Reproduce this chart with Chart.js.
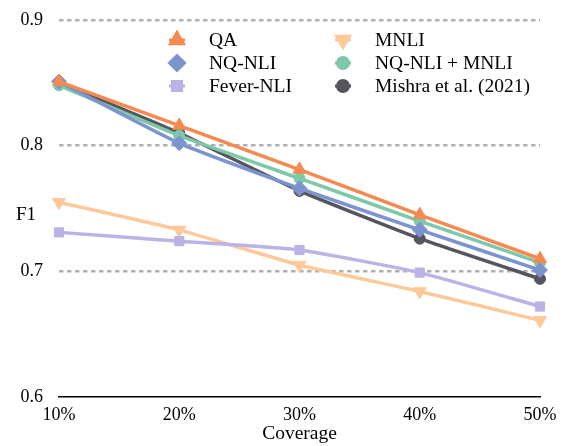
<!DOCTYPE html>
<html>
<head>
<meta charset="utf-8">
<script src="https://cdn.jsdelivr.net/npm/chart.js@4.4.1/dist/chart.umd.min.js"></script>
<style>
  body { margin: 0; background: #fff; }
  #wrap { width: 564px; height: 446px; }
</style>
</head>
<body>
<div id="wrap"><canvas id="myChart"></canvas></div>
<script>
var coverage = ['10%', '20%', '30%', '40%', '50%']
var qa = [0.851, 0.816, 0.781, 0.745, 0.710]
var nqNli = [0.851, 0.802, 0.766, 0.733, 0.701]
var feverNli = [0.731, 0.724, 0.717, 0.699, 0.672]
var mnli = [0.755, 0.733, 0.705, 0.684, 0.661]
var nqNliMnli = [0.848, 0.808, 0.774, 0.740, 0.707]
var mishra = [0.850, 0.810, 0.764, 0.726, 0.694]
var yTicks = [0.6, 0.7, 0.8, 0.9]

var serif = "'Liberation Serif', 'Times New Roman', serif"

function series(label, data, color, style, radius, rotation) {
	return {
		label: label,
		data: data,
		borderColor: color,
		backgroundColor: color,
		borderWidth: 3.5,
		pointStyle: style,
		pointRadius: radius,
		pointHoverRadius: radius,
		pointRotation: rotation || 0,
		pointBackgroundColor: color,
		pointBorderColor: color,
		pointBorderWidth: 1,
		tension: 0.15,
		fill: false,
		clip: false
	}
}

// legend in two columns, column-major like the original
var legendSlots = [
	{ label: 'QA', col: 0, row: 0 },
	{ label: 'NQ-NLI', col: 0, row: 1 },
	{ label: 'Fever-NLI', col: 0, row: 2 },
	{ label: 'MNLI', col: 1, row: 0 },
	{ label: 'NQ-NLI + MNLI', col: 1, row: 1 },
	{ label: 'Mishra et al. (2021)', col: 1, row: 2 }
]

var customLegend = {
	id: 'customLegend',
	afterDraw: function(chart) {
		var ctx = chart.ctx
		var colX = [177, 343]
		var rowY = [40, 63, 86]
		ctx.save()
		ctx.font = '19.5px ' + serif
		ctx.textBaseline = 'middle'
		ctx.textAlign = 'left'
		legendSlots.forEach(function(slot) {
			var ds = chart.data.datasets.find(function(d) { return d.label === slot.label })
			var x = colX[slot.col]
			var y = rowY[slot.row]
			ctx.strokeStyle = ds.borderColor
			ctx.fillStyle = ds.borderColor
			ctx.lineWidth = 3
			ctx.beginPath()
			ctx.moveTo(x - 8, y)
			ctx.lineTo(x + 8, y)
			ctx.stroke()
			Chart.helpers.drawPoint(ctx, {
				pointStyle: ds.pointStyle,
				radius: ds.pointRadius,
				rotation: ds.pointRotation,
				borderWidth: 1
			}, x, y)
			ctx.fillStyle = '#000'
			ctx.fillText(slot.label, x + 32, y + 1)
		})
		// horizontal "F1" axis label
		var yScale = chart.scales.y
		ctx.font = '19px ' + serif
		ctx.textAlign = 'center'
		ctx.fillText('F1', 26, yScale.getPixelForValue(0.745))
		ctx.restore()
	}
}

var myChart = document.getElementById('myChart').getContext('2d')
var chart = new Chart(myChart, {
	type: 'line',
	data: {
		labels: coverage,
		datasets: [
			series('QA', qa, '#F5894F', 'triangle', 7.5),
			series('NQ-NLI', nqNli, '#7B93CE', 'rectRot', 7.5),
			series('NQ-NLI + MNLI', nqNliMnli, '#7DC8A9', 'circle', 5.5),
			series('Mishra et al. (2021)', mishra, '#56555F', 'circle', 5.5),
			series('Fever-NLI', feverNli, '#BCB2E5', 'rect', 6.5),
			series('MNLI', mnli, '#FDC99A', 'triangle', 7.5, 180)
		]
	},
	options: {
		responsive: true,
		maintainAspectRatio: false,
		animation: false,
		events: [],
		layout: { padding: { top: 20, right: 24, left: 0, bottom: 0 } },
		plugins: {
			legend: { display: false },
			tooltip: { enabled: false }
		},
		scales: {
			x: {
				offset: false,
				grid: { display: false, drawTicks: false },
				border: { display: true, color: '#000', width: 1.5 },
				ticks: { color: '#000', font: { family: serif, size: 18 }, padding: 7, maxRotation: 0 },
				title: { display: true, text: 'Coverage', color: '#000', font: { family: serif, size: 19.5 }, padding: { top: 0, bottom: 0 } },
				afterFit: function(scale) { scale.height = 49 }
			},
			y: {
				min: 0.6,
				max: 0.9,
				afterBuildTicks: function(scale) {
					scale.ticks = yTicks.map(function(v) { return { value: v } })
				},
				grid: {
					drawTicks: true,
					tickLength: 16,
					tickColor: 'rgba(0,0,0,0)',
					lineWidth: 2.5,
					color: function(c) { return c.tick && c.tick.value === 0.6 ? 'rgba(0,0,0,0)' : '#b0b0b0' }
				},
				border: { display: false, dash: [4.5, 3.5] },
				ticks: {
					color: '#000',
					font: { family: serif, size: 18 },
					padding: 0,
					callback: function(v) { return v.toFixed(1) }
				},
				afterFit: function(scale) { scale.width = 59 }
			}
		}
	},
	plugins: [customLegend]
})
</script>
</body>
</html>
